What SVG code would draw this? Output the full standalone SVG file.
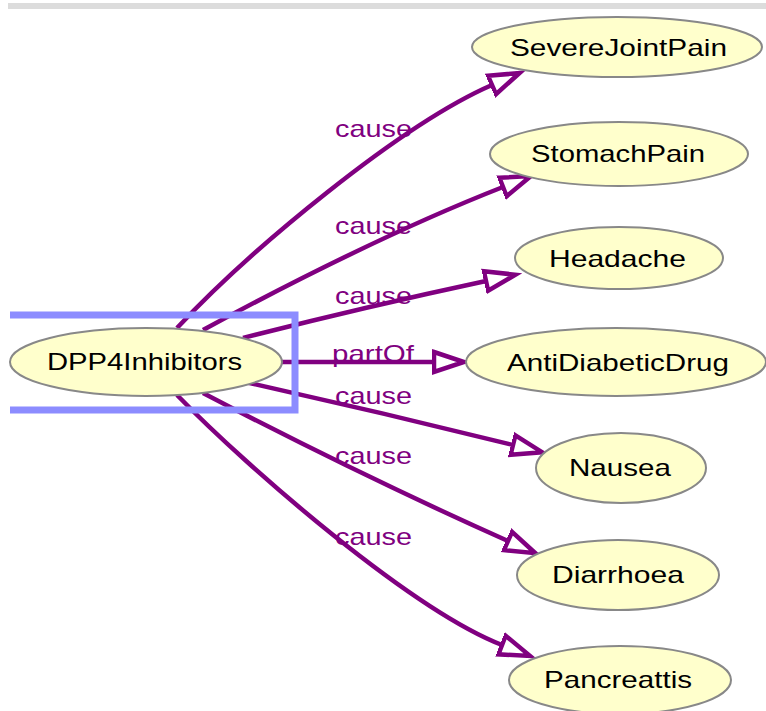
<svg xmlns="http://www.w3.org/2000/svg" width="766" height="711" viewBox="0 0 766 711">
  <style>
    .node ellipse { fill: #ffffcc; stroke: #888888; stroke-width: 2; }
    .node text { font-family: "Liberation Sans", Arial, sans-serif; font-size: 24px; fill: #000000; }
    .edge { fill: none; stroke: #800080; stroke-width: 4.5; marker-end: url(#open-arrow); }
    .elabel { font-family: "Liberation Sans", Arial, sans-serif; font-size: 24px; fill: #800080; }
    .select { fill: none; stroke: #8c8cff; stroke-width: 7; }
  </style>
  <defs>
    <marker id="open-arrow" markerUnits="userSpaceOnUse" markerWidth="40" markerHeight="30" refX="2" refY="15" orient="auto" viewBox="0 0 40 30">
      <path d="M2,5 L32,15 L2,25 Z" fill="#ffffff" stroke="#800080" stroke-width="4.5" stroke-linejoin="miter"/>
    </marker>
  </defs>

  <rect width="766" height="711" fill="#ffffff"/>
  <!-- toolbar strip along the top -->
  <rect x="8" y="3" width="758" height="6" fill="#dcdcdc"/>

  <g id="connectors">
    <path class="edge" d="M177,328 C250,250 400,125 492,85"/>
    <path class="edge" d="M203,330 Q373,238 503,187"/>
    <path class="edge" d="M243,338 Q360,308 486,281"/>
    <path class="edge" d="M280,362 L434,362"/>
    <path class="edge" d="M245,382 Q380,412 513,445"/>
    <path class="edge" d="M203,393 Q360,475 508,541"/>
    <path class="edge" d="M177,395 C250,470 412,610 502,645"/>
    <text class="elabel" x="335" y="137" textLength="77" lengthAdjust="spacingAndGlyphs">cause</text>
    <text class="elabel" x="335" y="234" textLength="77" lengthAdjust="spacingAndGlyphs">cause</text>
    <text class="elabel" x="335" y="304" textLength="77" lengthAdjust="spacingAndGlyphs">cause</text>
    <text class="elabel" x="332" y="362" textLength="82" lengthAdjust="spacingAndGlyphs">partOf</text>
    <text class="elabel" x="335" y="404" textLength="77" lengthAdjust="spacingAndGlyphs">cause</text>
    <text class="elabel" x="335" y="464" textLength="77" lengthAdjust="spacingAndGlyphs">cause</text>
    <text class="elabel" x="335" y="545" textLength="77" lengthAdjust="spacingAndGlyphs">cause</text>
  </g>

  <g id="node-DPP4Inhibitors" class="node">
    <ellipse cx="146" cy="362" rx="136" ry="34"/>
    <text x="47" y="370" textLength="195" lengthAdjust="spacingAndGlyphs">DPP4Inhibitors</text>
  </g>
  <g id="node-SevereJointPain" class="node">
    <ellipse cx="617" cy="47" rx="145" ry="30"/>
    <text x="510" y="56" textLength="217" lengthAdjust="spacingAndGlyphs">SevereJointPain</text>
  </g>
  <g id="node-StomachPain" class="node">
    <ellipse cx="619" cy="154" rx="129" ry="32"/>
    <text x="531" y="162" textLength="174" lengthAdjust="spacingAndGlyphs">StomachPain</text>
  </g>
  <g id="node-Headache" class="node">
    <ellipse cx="619" cy="258" rx="104" ry="31"/>
    <text x="549" y="267" textLength="137" lengthAdjust="spacingAndGlyphs">Headache</text>
  </g>
  <g id="node-AntiDiabeticDrug" class="node">
    <ellipse cx="616" cy="362" rx="150" ry="34"/>
    <text x="507" y="371" textLength="222" lengthAdjust="spacingAndGlyphs">AntiDiabeticDrug</text>
  </g>
  <g id="node-Nausea" class="node">
    <ellipse cx="621" cy="468" rx="85" ry="35"/>
    <text x="569" y="476" textLength="102" lengthAdjust="spacingAndGlyphs">Nausea</text>
  </g>
  <g id="node-Diarrhoea" class="node">
    <ellipse cx="618" cy="575" rx="101" ry="35"/>
    <text x="552" y="583" textLength="132" lengthAdjust="spacingAndGlyphs">Diarrhoea</text>
  </g>
  <g id="node-Pancreattis" class="node">
    <ellipse cx="620" cy="680" rx="111" ry="34"/>
    <text x="544" y="688" textLength="148" lengthAdjust="spacingAndGlyphs">Pancreattis</text>
  </g>

  <!-- selection frame around the focused node, open on the left -->
  <path id="selection" class="select" d="M10,315 H295 V410 H10"/>
</svg>
